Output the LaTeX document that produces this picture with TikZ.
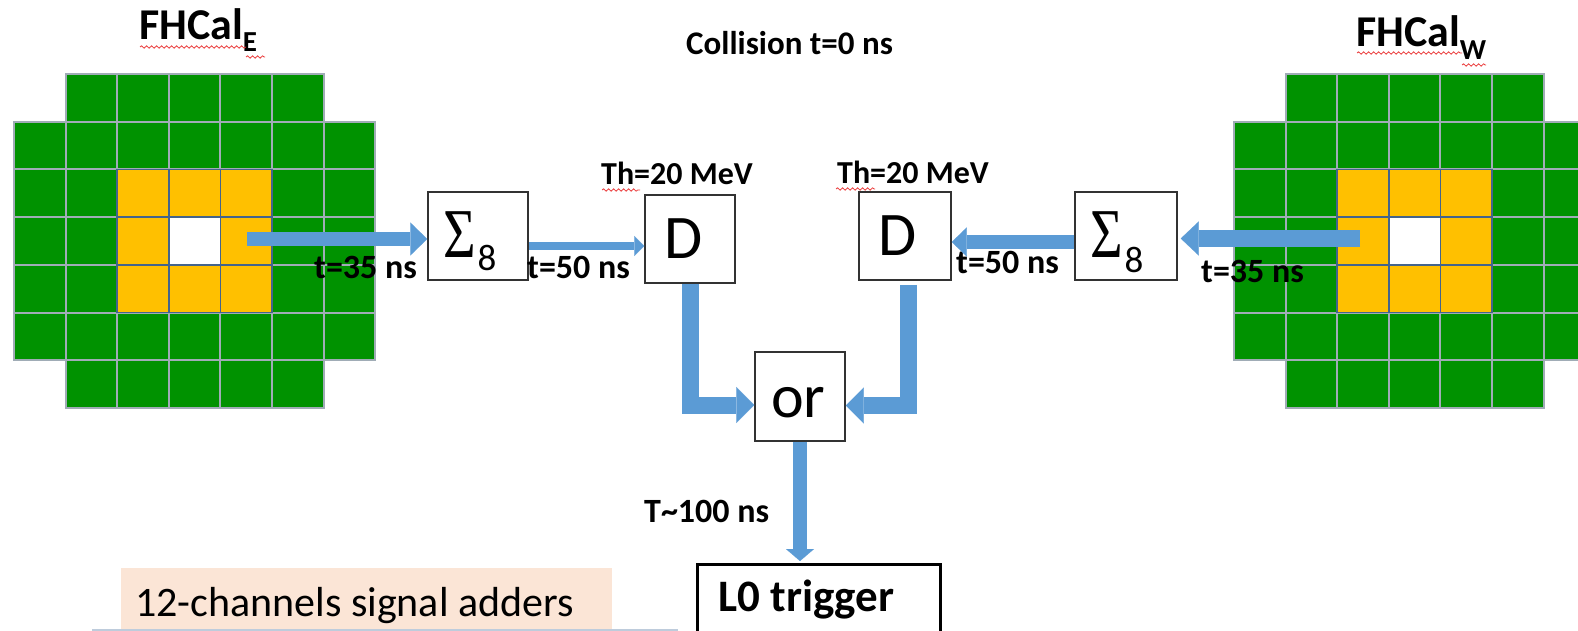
\documentclass[tikz,border=0pt]{standalone}
\usepackage{fontspec}
\setmainfont{Carlito}
\newfontfamily\serifgreek{Liberation Serif}
\usetikzlibrary{arrows.meta,decorations.pathmorphing}
\definecolor{cellgreen}{RGB}{0,146,0}
\definecolor{gridgray}{RGB}{160,172,182}
\definecolor{cellorange}{RGB}{255,192,0}
\definecolor{blockline}{RGB}{68,100,140}
\definecolor{arrowblue}{RGB}{91,155,213}
\definecolor{boxgray}{RGB}{50,50,50}
\definecolor{peach}{RGB}{251,229,214}
\definecolor{lineblue}{RGB}{190,204,220}
\definecolor{spellred}{RGB}{235,60,60}
\begin{document}
\begin{tikzpicture}[x=1pt,y=-1pt,
  lbl/.style={font=\bfseries\fontsize{34}{34}\selectfont, inner sep=0pt, anchor=base west},
  blockbox/.style={draw=boxgray, line width=1.5pt, fill=white, inner ysep=0pt, inner xsep=15pt, align=flush left, anchor=center},
  flow/.style={draw=arrowblue, line width=#1},
  wavy/.style={draw=spellred, line width=0.8pt, decorate, decoration={snake, amplitude=1.2pt, segment length=5pt}}]
\useasboundingbox (0,0) rectangle (1578,631);
\fill[white] (0,0) rectangle (1578,631);

% ---------- calorimeter grids ----------
\foreach \ox in {14,1234}{
  \foreach \r in {0,...,6}{
    \foreach \c in {0,...,6}{
      \pgfmathtruncatemacro\cskip{((\r==0)||(\r==6))&&((\c==0)||(\c==6))}
      \ifnum\cskip=0
        \filldraw[fill=cellgreen, draw=gridgray, line width=2pt] (\ox+\c*51.6, 74+\r*47.7) rectangle ++(51.6,47.7);
      \fi
    }
  }
  \foreach \r in {2,3,4}{
    \foreach \c in {2,3,4}{
      \pgfmathtruncatemacro\ccen{(\r==3)&&(\c==3)}
      \ifnum\ccen=1
        \filldraw[fill=white, draw=blockline, line width=1.5pt] (\ox+\c*51.6, 74+\r*47.7) rectangle ++(51.6,47.7);
      \else
        \filldraw[fill=cellorange, draw=blockline, line width=1.5pt] (\ox+\c*51.6, 74+\r*47.7) rectangle ++(51.6,47.7);
      \fi
    }
  }
}

% ---------- titles ----------
\node[lbl, font=\bfseries\fontsize{44}{44}\selectfont] (fhE) at (139,40) {FHCal\raisebox{-12pt}{\fontsize{29}{29}\selectfont E}};
\draw[wavy] (140,47) -- (246,47);
\draw[wavy] (246,57) -- (265,57);
\node[lbl, font=\bfseries\fontsize{44}{44}\selectfont] (fhW) at (1356,47) {FHCal\raisebox{-13pt}{\fontsize{29}{29}\selectfont W}};
\draw[wavy] (1357,53) -- (1462,53);
\draw[wavy] (1462,65) -- (1486,65);
\node[lbl, font=\bfseries\fontsize{33}{33}\selectfont] (coll) at (686,55) {Collision t=0 ns};

% ---------- blocks ----------
\node[blockbox, minimum width=100pt, minimum height=88pt, text width=70pt, text height=42pt, text depth=0pt] (sigL) at (478,236)
  {{\serifgreek\fontsize{70}{70}\selectfont\scalebox{0.8}[1]{Σ}}\hspace{2pt}\raisebox{-13pt}{\fontsize{37}{37}\selectfont 8}};
\node[blockbox, minimum width=102pt, minimum height=88pt, text width=72pt, text height=42pt, text depth=0pt] (sigR) at (1126,236)
  {{\serifgreek\fontsize{70}{70}\selectfont\scalebox{0.8}[1]{Σ}}\hspace{2pt}\raisebox{-15pt}{\fontsize{37}{37}\selectfont 8}};
\node[blockbox, inner xsep=19pt, minimum width=90pt, minimum height=88pt, text width=52pt, text height=38pt, text depth=0pt, font=\fontsize{62}{62}\selectfont] (DL) at (690,239) {D};
\node[blockbox, inner xsep=19pt, minimum width=92pt, minimum height=88pt, text width=54pt, text height=38pt, text depth=0pt, font=\fontsize{62}{62}\selectfont] (DR) at (905,236) {D};
\node[blockbox, inner xsep=16pt, minimum width=90pt, minimum height=89pt, text width=58pt, text height=41pt, text depth=0pt, font=\fontsize{62}{62}\selectfont] (orb) at (800,396.5) {or};
\node[draw=black, line width=2.5pt, fill=white, anchor=north, minimum width=243pt, inner xsep=21pt, text width=201pt, align=flush left,
  inner ysep=19pt, text height=28pt, text depth=50pt, font=\bfseries\fontsize{45}{45}\selectfont] (L0) at (819,563) {L0 trigger};

% ---------- labels ----------
\node[lbl, font=\bfseries\fontsize{32}{32}\selectfont] (thL) at (601,185) {Th=20 MeV};
\draw[wavy] (602,190) -- (640,190);
\node[lbl, font=\bfseries\fontsize{32}{32}\selectfont] (thR) at (837,183) {Th=20 MeV};
\draw[wavy] (836,189) -- (875,189);
\node[lbl] (t35L) at (314,278) {t=35 ns};
\node[lbl] (t50L) at (527,278) {t=50 ns};
\node[lbl] (t50R) at (956,273) {t=50 ns};
\node[lbl] (t35R) at (1201,282) {t=35 ns};
\node[lbl] (t100) at (644,522) {T\textasciitilde100 ns};

% ---------- arrows ----------
\coordinate (gE) at (247,239);
\coordinate (gW) at (1360,238.5);
\coordinate (a2) at ([yshift=-10pt]sigL.east);
\coordinate (a3) at ([yshift=-6pt]sigR.west);
\coordinate (o1) at ([yshift=-8.5pt]orb.west);
\coordinate (o2) at ([yshift=-9pt]orb.east);

\draw[flow=14pt, -{Triangle[width=33pt,length=17pt,line width=0.1pt]}] (gE) -- (gE -| sigL.west);
\draw[flow=8pt, -{Triangle[width=20pt,length=10pt,line width=0.1pt]}] (a2) -- (a2 -| DL.west);
\draw[flow=14pt, -{Triangle[width=29pt,length=15pt,line width=0.1pt]}] (a3) -- (a3 -| DR.east);
\draw[flow=17pt, -{Triangle[width=34pt,length=18pt,line width=0.1pt]}] (gW) -- ([xshift=3pt]gW -| sigR.east);
\draw[flow=17pt, -{Triangle[width=36pt,length=18pt,line width=0.1pt]}] (DL.south) |- (o1);
\draw[flow=17pt, -{Triangle[width=36pt,length=18pt,line width=0.1pt]}] ([xshift=3pt,yshift=-4pt]DR.south) |- (o2);
\draw[flow=14pt, -{Triangle[width=28pt,length=12pt,line width=0.1pt]}] (orb.south) -- ([yshift=2pt]orb.south |- L0.north);

% ---------- caption box ----------
\node[fill=peach, anchor=north west, inner xsep=14pt, inner ysep=0pt, text height=48pt, text depth=20pt, text width=463pt, align=flush left,
  font=\fontsize{42}{42}\selectfont] (cap) at (121,568) {12-channels signal adders};
\draw[lineblue, line width=3pt] (92,630) -- (678,630);
\end{tikzpicture}
\end{document}
